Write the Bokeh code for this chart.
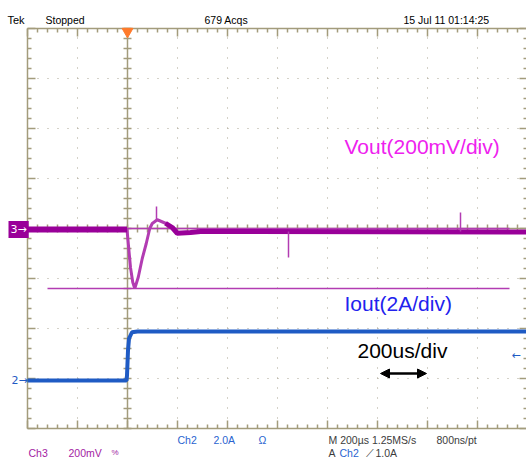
import numpy as np
from bokeh.plotting import figure
from bokeh.models import Range1d, Label, Arrow, NormalHead
from bokeh.embed import file_html
from bokeh.resources import INLINE

# ---------------- data ----------------
# time relative to trigger, in microseconds (200 us/div)
vout_t = [-400, -2, 2, 12, 21, 29, 43, 59, 75, 89, 99, 119, 152, 179, 199, 252, 292, 1600]
# Vout deviation in mV (Ch3, 200 mV/div)
vout_mv = [0, 0, -44, -152, -211, -236, -191, -116, -56, 4, 24, 39, 25, 8, -15, -12, -8, -10]
# isolated noise spikes on Vout
spike_t = [116, 644, 1332]
spike_base_mv = [39, -8, -8]
spike_tip_mv = [92, -112, 68]
# Iout in A (Ch2, 2 A/div)
iout_t = [-400, -4, -2, 2, 6, 18, 40, 1600]
iout_a = [0, 0, 0.2, 1.2, 1.68, 1.93, 1.96, 1.96]
# Vout cursors (mV) and their horizontal extent (us)
cursor_mv = [4, -236]
cursor_t = [-320, 1528]
# scope settings
ch3_mv_per_div = 200.0
ch3_pos_div = -0.02
ch2_a_per_div = 2.0
ch2_pos_div = -3.04
trigger_t = 0
trigger_level_a = 1.0
t_per_div = 200
t_left, t_right = -400, 1600     # graticule: 10 divisions
d_bot, d_top = -4, 4             # graticule: 8 divisions

# ---------------- layout / styles ----------------
W, H = 526, 459
US_PER_PX = 4.0                  # 200 us per 50 px division
DIV_PER_PX = 0.02                # 1 div per 50 px
GX0, GY0 = 27, 28                # graticule top-left pixel
x_lo = t_left - GX0 * US_PER_PX
x_hi = x_lo + W * US_PER_PX
y_hi = d_top + GY0 * DIV_PER_PX
y_lo = y_hi - H * DIV_PER_PX

TAN = "#a39c7c"
DOT = "#aaa492"
PURPLE = "#990099"
PURPLE_L = "#b23cb2"
BLUE = "#1f5bc4"
FONT = "Liberation Sans"

p = figure(width=W, height=H, output_backend="svg", toolbar_location=None,
           x_range=Range1d(x_lo, x_hi), y_range=Range1d(y_lo, y_hi),
           min_border=0, x_axis_location=None, y_axis_location=None,
           background_fill_color="white", border_fill_color="white",
           outline_line_color=None)
p.xgrid.visible = False
p.ygrid.visible = False

p.extra_y_ranges = {
    "v": Range1d((y_lo - ch3_pos_div) * ch3_mv_per_div, (y_hi - ch3_pos_div) * ch3_mv_per_div),
    "i": Range1d((y_lo - ch2_pos_div) * ch2_a_per_div, (y_hi - ch2_pos_div) * ch2_a_per_div),
}

# ---------------- graticule ----------------
xmaj = np.arange(t_left, t_right + 1, t_per_div, dtype=float)
xmin = np.arange(t_left, t_right + 1, t_per_div / 5, dtype=float)
ymaj = np.arange(d_bot, d_top + 1, 1, dtype=float)
ymin = np.round(np.arange(d_bot, d_top + 0.01, 0.2), 2)

# dotted division lines
gx = xmaj[(xmaj != t_left) & (xmaj != 0) & (xmaj != t_right)]
gy = ymaj[(ymaj != d_bot) & (ymaj != 0) & (ymaj != d_top)]
p.segment(x0=gx, y0=[d_bot] * len(gx), x1=gx, y1=[d_top] * len(gx),
          line_color=DOT, line_width=1, line_dash="1 9")
p.segment(x0=[t_left] * len(gy), y0=gy, x1=[t_right] * len(gy), y1=gy,
          line_color=DOT, line_width=1, line_dash="1 9")

# border + centre cross
p.segment(x0=[t_left, t_right, t_left, t_left, 0], y0=[d_bot, d_bot, d_top, d_bot, d_bot],
          x1=[t_left, t_right, t_right, t_right, 0], y1=[d_top, d_top, d_top, d_bot, d_top],
          line_color=TAN, line_width=1.5)
p.segment(x0=[t_left], y0=[0], x1=[t_right], y1=[0], line_color=TAN, line_width=1.5)

is_maj_y = np.isclose(ymin % 1, 0) | np.isclose(ymin % 1, 1)
is_maj_x = (xmin % t_per_div) == 0
ly = np.where(is_maj_y, 8, 4)        # tick length, px
lx = np.where(is_maj_x, 8, 4)
# left / right border ticks (inward)
p.segment(x0=[t_left] * len(ymin), y0=ymin, x1=t_left + ly * US_PER_PX, y1=ymin,
          line_color=TAN, line_width=1.5)
p.segment(x0=[t_right] * len(ymin), y0=ymin, x1=t_right - ly * US_PER_PX, y1=ymin,
          line_color=TAN, line_width=1.5)
# top / bottom border ticks (inward)
p.segment(x0=xmin, y0=[d_top] * len(xmin), x1=xmin, y1=d_top - lx * DIV_PER_PX,
          line_color=TAN, line_width=1.5)
p.segment(x0=xmin, y0=[d_bot] * len(xmin), x1=xmin, y1=d_bot + lx * DIV_PER_PX,
          line_color=TAN, line_width=1.5)
# centre cross ticks
p.segment(x0=-4 * US_PER_PX * np.ones(len(ymin)), y0=ymin, x1=4 * US_PER_PX * np.ones(len(ymin)),
          y1=ymin, line_color=TAN, line_width=1.5)
p.segment(x0=xmin, y0=-4 * DIV_PER_PX * np.ones(len(xmin)), x1=xmin,
          y1=4 * DIV_PER_PX * np.ones(len(xmin)), line_color=TAN, line_width=1.5)

# ---------------- traces ----------------
vt = np.array(vout_t, dtype=float)
vm = np.array(vout_mv, dtype=float)
pre = vt <= -2
post = vt >= 152

for lvl in cursor_mv:
    p.line(cursor_t, [lvl, lvl], y_range_name="v", line_color=PURPLE_L, line_width=1.5)

p.line(vt, vm, y_range_name="v", line_color=PURPLE_L, line_width=3)
p.line(vt[pre], vm[pre], y_range_name="v", line_color=PURPLE, line_width=6)
p.line(vt[post], vm[post], y_range_name="v", line_color=PURPLE, line_width=5)
p.segment(x0=spike_t, y0=spike_base_mv, x1=spike_t, y1=spike_tip_mv, y_range_name="v",
          line_color=PURPLE_L, line_width=1.5)

p.line(iout_t, iout_a, y_range_name="i", line_color=BLUE, line_width=4)

# trigger position marker
p.scatter(x=[trigger_t], y=[d_top - 3 * DIV_PER_PX], marker="inverted_triangle", size=11,
          fill_color="#ff7a2a", line_color="#ff7a2a")


# ---------------- texts ----------------
def X(px):
    return x_lo + px * US_PER_PX


def Y(py):
    return y_hi - py * DIV_PER_PX


def lab(x, y, text, color, size="10.5px", align="left", font=FONT, **kw):
    p.add_layout(Label(x=X(x), y=Y(y), text=text, text_color=color, text_font=font,
                       text_font_size=size, text_align=align, text_baseline="middle", **kw))


lab(7, 19, "Tek", "black", "11px")
lab(45, 19, "Stopped", "black")
lab(204, 19, "679 Acqs", "black")
lab(403, 19, "15 Jul 11 01:14:25", "black")

lab(177, 439, "Ch2", "#2a64d0")
lab(213, 439, "2.0A", "#2a64d0")
lab(258, 439, "Ω", "#2a64d0")
lab(328, 439, "M 200µs 1.25MS/s", "#3c3c3c")
lab(436, 439, "800ns/pt", "#3c3c3c")

lab(28, 452, "Ch3", "#a322a3")
lab(68, 452, "200mV", "#a322a3")
lab(111, 452, "%", "#a322a3", "8px")
lab(328, 452, "A", "#3c3c3c")
lab(339, 452, "Ch2", "#2a64d0")
lab(365, 452, "⟋", "#3c3c3c")
lab(375, 452, "1.0A", "#3c3c3c")

# channel markers
lab(8, 229, "3\u2192", "white", "11px", font="DejaVu Sans",
    background_fill_color=PURPLE, padding=2)
lab(11, 380, "2\u2192", BLUE, "11px", font="DejaVu Sans")
p.add_layout(Label(x=X(511), y=ch2_pos_div + trigger_level_a / ch2_a_per_div, text="\u2190",
                   text_color=BLUE, text_font="DejaVu Sans", text_font_size="11px",
                   text_align="left", text_baseline="middle"))

# annotations
lab(344, 146, "Vout(200mV/div)", "#ee22ee", "21px")
lab(344, 303, "Iout(2A/div)", "#2222ee", "21px")
lab(357, 350, "200us/div", "black", "21px")
p.add_layout(Arrow(x_start=X(380), y_start=Y(373), x_end=X(426), y_end=Y(373),
                   line_width=2.5, line_color="black",
                   start=NormalHead(size=9, fill_color="black", line_color="black"),
                   end=NormalHead(size=9, fill_color="black", line_color="black")))

open("out.html", "w").write(file_html(p, INLINE))
